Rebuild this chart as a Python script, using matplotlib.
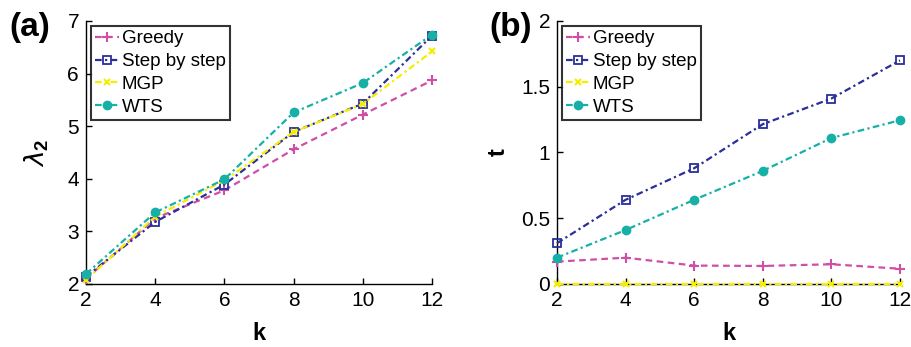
import matplotlib
matplotlib.use("Agg")
import matplotlib.pyplot as plt

plt.rcParams['font.family'] = ['Liberation Sans', 'DejaVu Sans']
plt.rcParams['mathtext.fontset'] = 'custom'
plt.rcParams['mathtext.rm'] = 'Liberation Sans'
plt.rcParams['mathtext.bf'] = 'Liberation Sans:bold'

k = [2, 4, 6, 8, 10, 12]
series_names = ["Greedy", "Step by step", "MGP", "WTS"]

lam_greedy = [2.10, 3.25, 3.78, 4.56, 5.22, 5.87]
lam_step = [2.14, 3.18, 3.89, 4.89, 5.43, 6.72]
lam_mgp = [2.08, 3.28, 3.97, 4.89, 5.42, 6.42]
lam_wts = [2.19, 3.36, 3.99, 5.26, 5.82, 6.74]

t_greedy = [0.17, 0.20, 0.14, 0.137, 0.15, 0.116]
t_step = [0.31, 0.64, 0.88, 1.215, 1.41, 1.70]
t_mgp = [0.002, 0.002, 0.002, 0.002, 0.002, 0.002]
t_wts = [0.20, 0.41, 0.64, 0.86, 1.11, 1.245]

colors = ["#cf4fa6", "#2a2f9a", "#f5ee00", "#16b0a6"]
styles = [dict(ls=(0, (3, 2)), marker='+', ms=7, mew=1.5),
          dict(ls=(0, (3, 1.5, 1, 1.5)), marker='s', ms=6, mew=1.3, mfc='none'),
          dict(ls=(0, (3, 1.5, 1, 1.5)), marker='x', ms=5, mew=1.5),
          dict(ls=(0, (3, 1.5, 1, 1.5)), marker='o', ms=6, mew=1.0)]

fig = plt.figure(figsize=(9.12, 3.47), dpi=100)
axA = fig.add_axes([0.0943, 0.1816, 0.3794, 0.758])
axB = fig.add_axes([0.6107, 0.1816, 0.3761, 0.758])

def draw(ax, data, ylim, yticks, yticklabels):
    for d, c, st, name in zip(data, colors, styles, series_names):
        kw = dict(st)
        if kw.get('mfc') != 'none':
            kw['mfc'] = c
        ax.plot(k, d, color=c, lw=1.6, mec=c, label=name, clip_on=False,
                zorder=3, **kw)
    ax.set_xlim(2, 12)
    ax.set_ylim(*ylim)
    ax.set_xticks(k)
    ax.set_yticks(yticks)
    ax.set_yticklabels(yticklabels)
    for s in ['top', 'right']:
        ax.spines[s].set_visible(False)
    for s in ['left', 'bottom']:
        ax.spines[s].set_linewidth(1.0)
    ax.tick_params(direction='in', labelsize=15, length=4, width=1.0, pad=5)
    ax.set_xlabel('k', fontsize=17, fontweight='bold', labelpad=9)
    leg = ax.legend(loc='upper left', fontsize=13.5, frameon=True, fancybox=False,
                    edgecolor='black', borderpad=0.25, labelspacing=0.3,
                    handlelength=1.25, handletextpad=0.15, borderaxespad=0.25)
    leg.get_frame().set_linewidth(1.5)

draw(axA, [lam_greedy, lam_step, lam_mgp, lam_wts], (2, 7), [2, 3, 4, 5, 6, 7],
     ['2', '3', '4', '5', '6', '7'])
draw(axB, [t_greedy, t_step, t_mgp, t_wts], (0, 2), [0, 0.5, 1, 1.5, 2],
     ['0', '0.5', '1', '1.5', '2'])

axA.set_ylabel(r'$\lambda_{\mathbf{2}}$', fontsize=19, labelpad=12)
axB.set_ylabel('t', fontsize=17, fontweight='bold', labelpad=8)

fig.text(0.010, 0.92, '(a)', fontsize=24, fontweight='bold', va='center', ha='left')
fig.text(0.537, 0.92, '(b)', fontsize=24, fontweight='bold', va='center', ha='left')

fig.savefig('out.png', dpi=100)
